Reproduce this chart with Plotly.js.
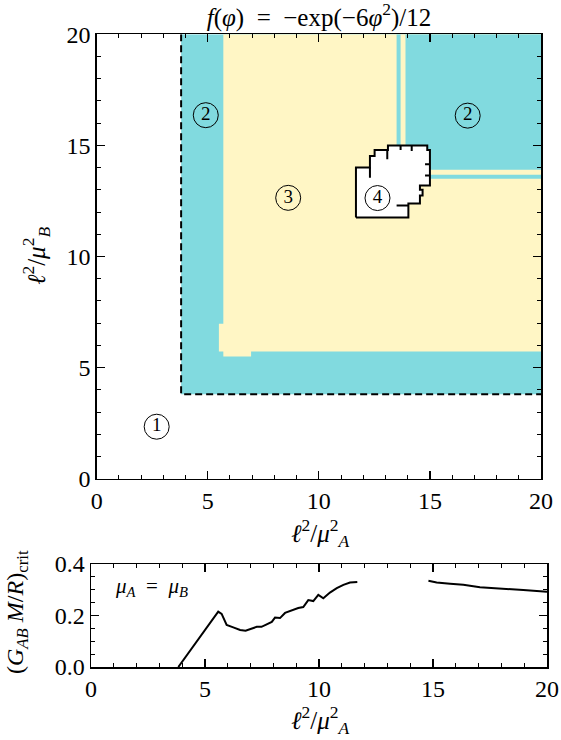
<!DOCTYPE html>
<html>
<head>
<meta charset="utf-8">
<script src="https://cdn.plot.ly/plotly-3.0.1.min.js"></script>
<style>html,body{margin:0;padding:0;background:#fff;}#chart{width:561px;height:740px;}</style>
</head>
<body>
<div id="chart"></div>
<script>
// ---- Top panel: region boundaries (data units: l^2/mu_A^2, l^2/mu_B^2) ----
const regionOuterX = [3.8, 20, 20, 3.8, 3.8];
const regionOuterY = [3.8, 3.8, 20, 20, 3.8];

const region3X = [5.7, 5.7, 5.5, 5.5, 5.7, 5.7, 6.95, 6.95, 20, 20, 5.7];
const region3Y = [20, 6.97, 6.97, 5.72, 5.72, 5.5, 5.5, 5.72, 5.72, 20, 20];

const region2PatchX = [13.9, 20, 20, 13.9, 13.9, null, 13.5, 13.68, 13.68, 13.5, 13.5, null, 15.0, 20, 20, 15.0, 15.0];
const region2PatchY = [13.9, 13.9, 20, 20, 13.9, null, 14.9, 14.9, 20, 20, 14.9, null, 13.5, 13.5, 13.68, 13.68, 13.5];

const region4X = [11.67, 11.67, 12.30, 12.30, 12.51, 12.51, 13.11, 13.11, 14.88, 14.88, 15.0, 15.0, 14.55, 14.55, 14.67, 14.67, 14.55, 14.55, 14.03, 14.03, 11.67];
const region4Y = [11.75, 14.0, 14.0, 14.52, 14.52, 14.79, 14.79, 15.0, 15.0, 14.79, 14.79, 13.19, 13.19, 13.0, 13.0, 12.75, 12.75, 12.39, 12.39, 11.75, 11.75];

const stubX = [12.30, 12.30, null, 13.08, 13.08, null, 13.68, 13.68, null, 14.18, 14.18, null, 15.0, 14.78, null, 15.0, 14.78, null, 13.5, 14.03];
const stubY = [14.0, 13.54, null, 14.79, 14.38, null, 15.0, 14.79, null, 15.0, 14.75, null, 14.15, 14.15, null, 13.65, 13.65, null, 12.29, 12.29];

const boundaryX = [3.8, 3.8, 20];
const boundaryY = [20, 3.8, 3.8];

const labelX = [2.7, 4.91, 16.7, 8.62, 12.64];
const labelY = [2.34, 16.36, 16.34, 12.64, 12.63];
const labelText = ['1', '2', '2', '3', '4'];

// ---- Bottom panel: critical coupling for mu_A = mu_B ----
const critX1 = [3.83, 5.58, 5.73, 5.95, 6.24, 6.54, 6.78, 7.05, 7.27, 7.48, 7.78, 7.93, 8.07, 8.29, 8.51, 8.80, 9.09, 9.31, 9.53, 9.75, 9.97, 10.19, 10.48, 10.78, 11.07, 11.36, 11.68];
const critY1 = [0.0, 0.215, 0.206, 0.163, 0.154, 0.144, 0.141, 0.150, 0.156, 0.156, 0.169, 0.175, 0.192, 0.190, 0.210, 0.220, 0.229, 0.233, 0.260, 0.256, 0.280, 0.267, 0.289, 0.306, 0.319, 0.328, 0.330];
const critX2 = [14.8, 15.16, 15.75, 16.33, 17.06, 17.94, 18.96, 20.0];
const critY2 = [0.335, 0.328, 0.323, 0.319, 0.310, 0.306, 0.299, 0.292];

const xTicks = [0, 5, 10, 15, 20];
const yTicksTop = [0, 5, 10, 15, 20];
const yTicksBottom = [0, 0.2, 0.4];
const yTickTextBottom = ['0.0', '0.2', '0.4'];
const xTickText = ['0', '5', '10', '15', '20'];

const CYAN = '#81dadf';
const YELLOW = '#fff6c5';
const FONT = 'Liberation Serif';
const TICKFONT = {family: 'Liberation Serif', size: 24, color: '#000000'};

const traces = [
  {x: regionOuterX, y: regionOuterY, xaxis: 'x', yaxis: 'y', type: 'scatter', mode: 'lines', fill: 'toself', fillcolor: CYAN, line: {width: 0}, hoverinfo: 'skip'},
  {x: region3X, y: region3Y, xaxis: 'x', yaxis: 'y', type: 'scatter', mode: 'lines', fill: 'toself', fillcolor: YELLOW, line: {width: 0}, hoverinfo: 'skip'},
  {x: region2PatchX, y: region2PatchY, xaxis: 'x', yaxis: 'y', type: 'scatter', mode: 'lines', fill: 'toself', fillcolor: CYAN, line: {width: 0}, connectgaps: false, hoverinfo: 'skip'},
  {x: region4X, y: region4Y, xaxis: 'x', yaxis: 'y', type: 'scatter', mode: 'lines', fill: 'toself', fillcolor: '#ffffff', line: {width: 2, color: '#000'}, hoverinfo: 'skip'},
  {x: stubX, y: stubY, xaxis: 'x', yaxis: 'y', type: 'scatter', mode: 'lines', line: {width: 2, color: '#000'}, connectgaps: false, hoverinfo: 'skip'},
  {x: boundaryX, y: boundaryY, xaxis: 'x', yaxis: 'y', type: 'scatter', mode: 'lines', line: {width: 2, color: '#000', dash: '7px,4px'}, hoverinfo: 'skip'},
  {x: labelX, y: labelY, text: labelText, xaxis: 'x', yaxis: 'y', type: 'scatter', mode: 'markers+text',
   marker: {symbol: 'circle-open', size: 25, color: '#000', line: {width: 1, color: '#000'}},
   textposition: 'middle center', textfont: {family: FONT, size: 19, color: '#000'}, hoverinfo: 'skip'},
  {x: critX1, y: critY1, xaxis: 'x2', yaxis: 'y2', type: 'scatter', mode: 'lines', line: {width: 2, color: '#000'}, hoverinfo: 'skip'},
  {x: critX2, y: critY2, xaxis: 'x2', yaxis: 'y2', type: 'scatter', mode: 'lines', line: {width: 2, color: '#000'}, hoverinfo: 'skip'}
];

const W = 561, H = 740;
const MINOR1 = {ticks: 'inside', dtick: 1, ticklen: 4, tickwidth: 1, tickcolor: '#000'};

const layout = {
  width: W, height: H,
  margin: {l: 0, r: 0, t: 0, b: 0},
  paper_bgcolor: '#fff', plot_bgcolor: '#fff',
  showlegend: false,
  font: {family: FONT, size: 24, color: '#000'},
  title: {text: '<i>f</i>(<i>φ</i>)\u2002=\u2002−exp(−6<i>φ</i><sup>2</sup>)/12', font: {family: FONT, size: 25, color: '#000'},
          x: 319 / W, xanchor: 'center', xref: 'paper', y: 1 - 17 / H, yanchor: 'middle', yref: 'paper'},
  xaxis: {domain: [96.7 / W, 541 / W], range: [0, 20], anchor: 'y', tickmode: 'array', tickvals: xTicks, ticktext: xTickText,
    tickfont: TICKFONT, showgrid: false, zeroline: false, showline: true, linecolor: '#000', linewidth: 1.5,
    mirror: 'allticks', ticks: 'inside', ticklen: 8, tickwidth: 1.2, tickcolor: '#000', minor: MINOR1},
  yaxis: {domain: [1 - 478.7 / H, 1 - 34.3 / H], range: [0, 20], anchor: 'x', tickmode: 'array', tickvals: yTicksTop, ticktext: xTickText,
    tickfont: TICKFONT, showgrid: false, zeroline: false, showline: true, linecolor: '#000', linewidth: 1.5,
    mirror: 'allticks', ticks: 'inside', ticklen: 8, tickwidth: 1.2, tickcolor: '#000', minor: MINOR1},
  xaxis2: {domain: [91 / W, 547 / W], range: [0, 20], anchor: 'y2', tickmode: 'array', tickvals: xTicks, ticktext: xTickText,
    tickfont: TICKFONT, showgrid: false, zeroline: false, showline: true, linecolor: '#000', linewidth: 1.5,
    mirror: 'allticks', ticks: 'inside', ticklen: 8, tickwidth: 1.2, tickcolor: '#000', minor: MINOR1},
  yaxis2: {domain: [1 - 667 / H, 1 - 564 / H], range: [0, 0.4], anchor: 'x2', tickmode: 'array', tickvals: yTicksBottom, ticktext: yTickTextBottom,
    tickfont: TICKFONT, showgrid: false, zeroline: false, showline: true, linecolor: '#000', linewidth: 1.5,
    mirror: 'allticks', ticks: 'inside', ticklen: 8, tickwidth: 1.2, tickcolor: '#000',
    minor: {ticks: 'inside', dtick: 0.05, ticklen: 4, tickwidth: 1, tickcolor: '#000'}},
  annotations: [
    {text: '<i>ℓ</i><sup>2</sup>/<i>μ</i><sup>2</sup><sub><i>A</i></sub>', xref: 'paper', yref: 'paper',
     x: 320 / W, y: 1 - 533 / H, xanchor: 'center', yanchor: 'middle', showarrow: false, font: {family: FONT, size: 25, color: '#000'}},
    {text: '<i>ℓ</i><sup>2</sup>/<i>μ</i><sup>2</sup><sub><i>B</i></sub>', xref: 'paper', yref: 'paper', textangle: -90,
     x: 36 / W, y: 1 - 256 / H, xanchor: 'center', yanchor: 'middle', showarrow: false, font: {family: FONT, size: 25, color: '#000'}},
    {text: '<i>ℓ</i><sup>2</sup>/<i>μ</i><sup>2</sup><sub><i>A</i></sub>', xref: 'paper', yref: 'paper',
     x: 320 / W, y: 1 - 720 / H, xanchor: 'center', yanchor: 'middle', showarrow: false, font: {family: FONT, size: 25, color: '#000'}},
    {text: '(<i>G</i><sub><i>AB</i></sub> <i>M</i>/<i>R</i>)<sub>crit</sub>', xref: 'paper', yref: 'paper', textangle: -90,
     x: 17 / W, y: 1 - 612 / H, xanchor: 'center', yanchor: 'middle', showarrow: false, font: {family: FONT, size: 24, color: '#000'}},
    {text: '<i>μ</i><sub><i>A</i></sub>\u2002=\u2002<i>μ</i><sub><i>B</i></sub>', xref: 'x2', yref: 'y2',
     x: 0.95, y: 0.31, xanchor: 'left', yanchor: 'middle', showarrow: false, font: {family: FONT, size: 21, color: '#000'}}
  ]
};

Plotly.newPlot('chart', traces, layout, {staticPlot: true, displayModeBar: false});
</script>
</body>
</html>
